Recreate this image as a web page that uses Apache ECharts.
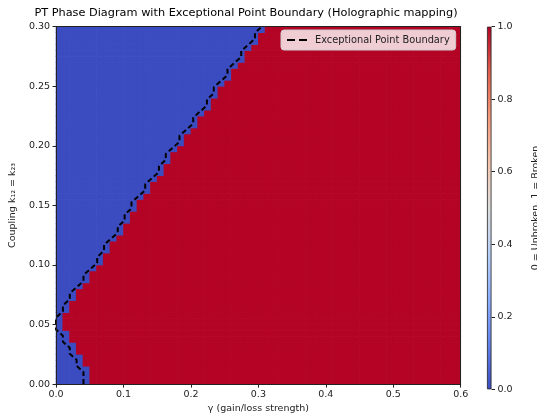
<!DOCTYPE html>
<html><head><meta charset="utf-8">
<script src="https://cdn.jsdelivr.net/npm/echarts@6.0.0/dist/echarts.min.js"></script>
<style>html,body{margin:0;padding:0;background:#fff}#c{width:537px;height:419px}</style>
</head><body><div id="c"></div>
<script>
// ---- data ----
const gammaRange = [0, 0.6];
const couplingRange = [0, 0.3];
const nGamma = 60;
const nCoupling = 60;
const xTickLabels = ['0.0','0.1','0.2','0.3','0.4','0.5','0.6'];
const yTickLabels = ['0.00','0.05','0.10','0.15','0.20','0.25','0.30'];
const cbTickLabels = ['0.0','0.2','0.4','0.6','0.8','1.0'];
// first broken (red) gamma column for each coupling row (row 0 = bottom)
const brokenStartCol = [
  5,5,5,4,4,3,3,2,2,1,1,1,
  2,2,3,3,4,5,5,6,
  7,7,8,8,9,10,10,11,11,12,
  12,13,14,14,15,16,16,17,17,18,
  19,19,20,21,21,22,23,23,24,24,
  25,26,26,27,28,28,29,30,30,31
];
const coolwarm = [
  [0.0,'#3b4cc0'],[0.125,'#6282ea'],[0.25,'#8db0fe'],[0.375,'#b8d0f9'],
  [0.5,'#dddddd'],[0.625,'#f5c4ad'],[0.75,'#f49a7b'],[0.875,'#de604d'],[1.0,'#b40426']
];

// ---- build series data ----
const cellW = (gammaRange[1]-gammaRange[0])/nGamma;
const cellH = (couplingRange[1]-couplingRange[0])/nCoupling;
const heatData = [];
for (let j = 0; j < nCoupling; j++) {
  for (let i = 0; i < nGamma; i++) heatData.push([i, j, i >= brokenStartCol[j] ? 1 : 0]);
}
const dg = (gammaRange[1]-gammaRange[0])/(nGamma-1);
const dk = (couplingRange[1]-couplingRange[0])/(nCoupling-1);
const epLine = brokenStartCol.map((c, j) => [gammaRange[0] + (c-1)*dg, couplingRange[0] + j*dk]);

const FONT = 'DejaVu Sans';
const TXT = '#222';
const G = {left: 54.3, top: 26.7, width: 406.4, height: 362.6};

const chart = echarts.init(document.getElementById('c'), null, {renderer: 'canvas'});
chart.setOption({
  animation: false,
  backgroundColor: '#fff',
  textStyle: {fontFamily: FONT},
  title: {
    text: 'PT Phase Diagram with Exceptional Point Boundary (Holographic mapping)',
    left: 246, top: 8, padding: 0, textAlign: 'center',
    textStyle: {fontFamily: FONT, fontSize: 11.3, fontWeight: 'normal', color: '#000'}
  },
  legend: {
    data: [{name: 'Exceptional Point Boundary', icon: 'path://M0,0h8v2h-8z M12,0h8v2h-8z'}],
    left: 281, top: 30, orient: 'vertical',
    padding: [5, 6, 5, 6],
    itemWidth: 20, itemHeight: 2.2, itemGap: 4,
    backgroundColor: 'rgba(255,255,255,0.8)', borderColor: '#cccccc', borderWidth: 1, borderRadius: 3,
    textStyle: {fontFamily: FONT, fontSize: 9.8, color: TXT, padding: [0,0,0,3]}
  },
  grid: [
    {left: G.left, top: G.top, width: G.width, height: G.height},
    {left: 487, top: G.top, width: 18, height: G.height}
  ],
  xAxis: [
    {type: 'value', gridIndex: 0, min: gammaRange[0], max: gammaRange[1], interval: 0.1, position: 'bottom', z: 10,
     name: 'γ (gain/loss strength)', nameLocation: 'middle', nameGap: 18,
     nameTextStyle: {fontFamily: FONT, fontSize: 9.5, color: TXT},
     axisLine: {show: true, onZero: false, lineStyle: {color: '#222', width: 1}},
     axisTick: {show: true, length: 3.5, lineStyle: {color: '#222'}},
     axisLabel: {margin: 5, fontFamily: FONT, fontSize: 9.5, color: TXT,
       formatter: v => xTickLabels[Math.round(v/0.1)] ?? ''},
     splitLine: {show: false}},
    {type: 'value', gridIndex: 0, min: gammaRange[0], max: gammaRange[1], position: 'top', z: 10,
     axisLine: {show: true, onZero: false, lineStyle: {color: '#222', width: 1}},
     axisTick: {show: false}, axisLabel: {show: false}, splitLine: {show: false}},
    {type: 'category', gridIndex: 1, data: ['cb'], show: false, boundaryGap: true}
  ],
  yAxis: [
    {type: 'value', gridIndex: 0, min: couplingRange[0], max: couplingRange[1], interval: 0.05, position: 'left', z: 10,
     name: 'Coupling k₁₂ = k₂₃', nameLocation: 'middle', nameGap: 32, nameRotate: 90,
     nameTextStyle: {fontFamily: FONT, fontSize: 9.5, color: TXT},
     axisLine: {show: true, onZero: false, lineStyle: {color: '#222', width: 1}},
     axisTick: {show: true, length: 3.5, lineStyle: {color: '#222'}},
     axisLabel: {margin: 6, fontFamily: FONT, fontSize: 9.5, color: TXT,
       formatter: v => yTickLabels[Math.round(v/0.05)] ?? ''},
     splitLine: {show: false}},
    {type: 'value', gridIndex: 0, min: couplingRange[0], max: couplingRange[1], position: 'right', z: 10,
     axisLine: {show: true, onZero: false, lineStyle: {color: '#222', width: 1}},
     axisTick: {show: false}, axisLabel: {show: false}, splitLine: {show: false}},
    {type: 'value', gridIndex: 1, min: 0, max: 1, interval: 0.2, position: 'right',
     name: '0 = Unbroken, 1 = Broken', nameLocation: 'middle', nameGap: 39, nameRotate: 90,
     nameTextStyle: {fontFamily: FONT, fontSize: 9.5, color: TXT},
     axisLine: {show: false},
     axisTick: {show: true, length: 3.5, lineStyle: {color: '#222'}},
     axisLabel: {margin: 6, fontFamily: FONT, fontSize: 9.5, color: TXT,
       formatter: v => cbTickLabels[Math.round(v/0.2)] ?? ''},
     splitLine: {show: false}}
  ],
  series: [
    {type: 'custom', xAxisIndex: 0, yAxisIndex: 0, data: heatData, silent: true, z: 1,
     encode: {x: 0, y: 1},
     renderItem: function (params, api) {
       const i = api.value(0), j = api.value(1), v = api.value(2);
       const p0 = api.coord([gammaRange[0] + i*cellW, couplingRange[0] + j*cellH]);
       const p1 = api.coord([gammaRange[0] + (i+1)*cellW, couplingRange[0] + (j+1)*cellH]);
       return {type: 'rect',
         shape: {x: p0[0]-0.35, y: p1[1]-0.35, width: p1[0]-p0[0]+0.7, height: p0[1]-p1[1]+0.7},
         style: {fill: v >= 0.5 ? coolwarm[coolwarm.length-1][1] : coolwarm[0][1]}};
     }},
    {name: 'Exceptional Point Boundary', type: 'line', xAxisIndex: 0, yAxisIndex: 0,
     data: epLine, symbol: 'none', showSymbol: false, z: 5, clip: false,
     lineStyle: {color: '#000', width: 2, type: [5, 3]}, itemStyle: {color: '#000'}},
    {type: 'bar', xAxisIndex: 2, yAxisIndex: 2, data: [1], barWidth: '100%', silent: true,
     itemStyle: {
       borderColor: '#222', borderWidth: 0.8,
       color: new echarts.graphic.LinearGradient(0, 1, 0, 0, coolwarm.map(c => ({offset: c[0], color: c[1]})))
     }}
  ]
});
</script>
</body></html>
